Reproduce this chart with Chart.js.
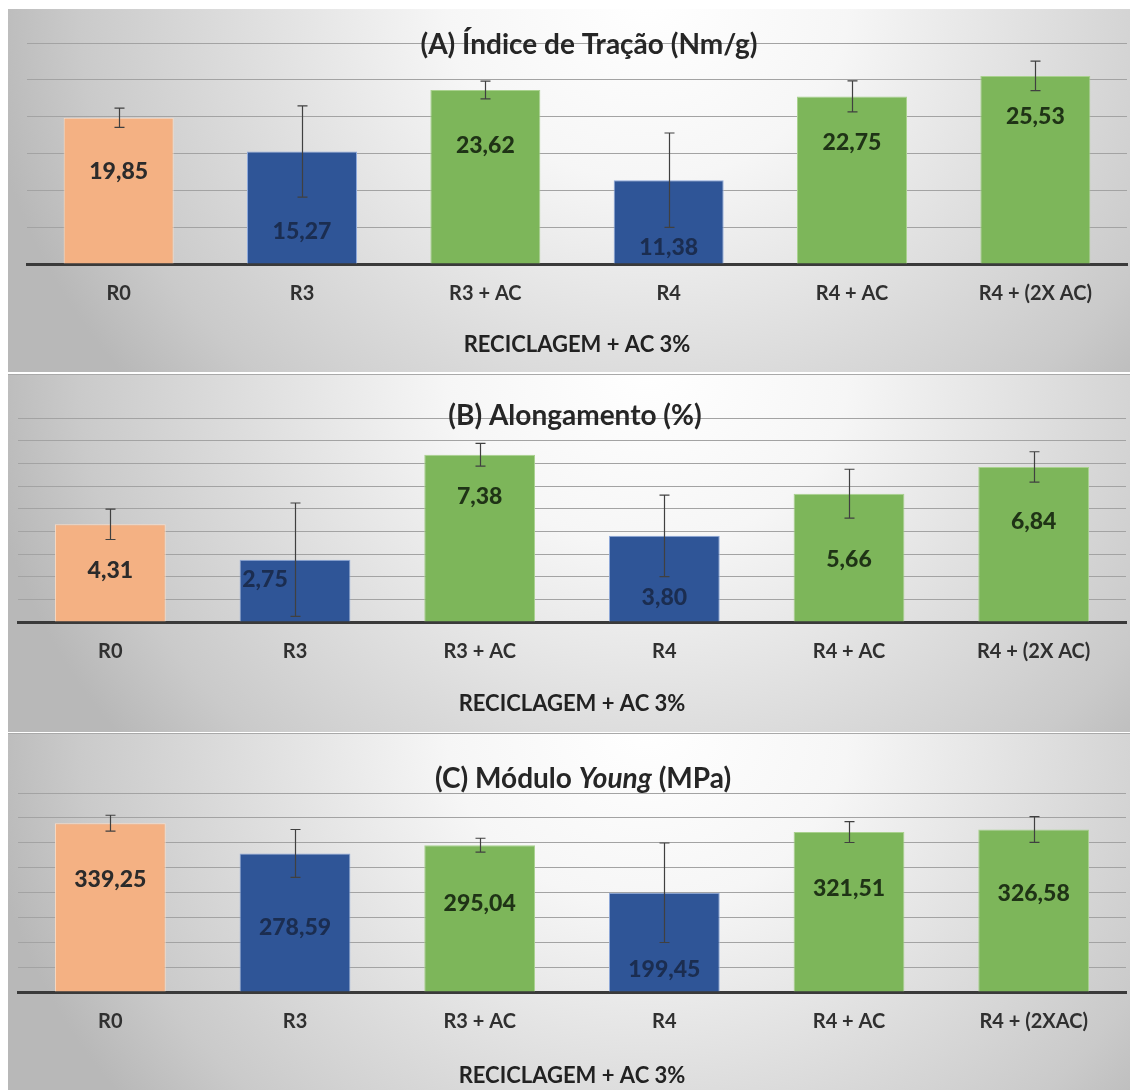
<!DOCTYPE html>
<html><head><meta charset="utf-8">
<script src="https://cdn.jsdelivr.net/npm/chart.js@4.4.0/dist/chart.umd.min.js"></script>
<style>
html,body{margin:0;padding:0;background:#fff;width:1130px;height:1090px;overflow:hidden}
.panel{position:absolute;left:8px;width:1122px}
canvas{display:block}
</style></head><body>
<div class="panel" style="top:9px;height:363px"><canvas id="ca" width="1122" height="363"></canvas></div>
<div class="panel" style="top:374px;height:357px;border-top:1px solid #a9a9a9"><canvas id="cb" width="1122" height="357"></canvas></div>
<div class="panel" style="top:733px;height:357px;border-top:1px solid #a9a9a9"><canvas id="cc" width="1122" height="357"></canvas></div>
<script>
// ---- data ----
const categoriesAB = ['R0', 'R3', 'R3 + AC', 'R4', 'R4 + AC', 'R4 + (2X AC)'];
const categoriesC = ['R0', 'R3', 'R3 + AC', 'R4', 'R4 + AC', 'R4 + (2XAC)'];
const tensileIndex = [19.85, 15.27, 23.62, 11.38, 22.75, 25.53];
const tensileError = [1.3, 6.2, 1.2, 6.4, 2.1, 2.0];
const elongation = [4.31, 2.75, 7.38, 3.80, 5.66, 6.84];
const elongationError = [0.67, 2.5, 0.5, 1.8, 1.08, 0.67];
const youngModulus = [339.25, 278.59, 295.04, 199.45, 321.51, 326.58];
const youngError = [16, 48, 14, 100, 21, 26];
const xAxisTitle = 'RECICLAGEM + AC 3%';
const titleA = [{t: '(A) Índice de Tração (Nm/g)'}];
const titleB = [{t: '(B) Alongamento (%)'}];
const titleC = [{t: '(C) Módulo '}, {t: 'Young', i: true}, {t: ' (MPa)'}];

// ---- styles ----
const ORANGE = '#F4B183', BLUE = '#2F5597', GREEN = '#7DB65A';
const barFill = [ORANGE, BLUE, GREEN, BLUE, GREEN, GREEN];
const barEdge = ['#FBDCC4', '#8EA9DB', '#A9D18E', '#8EA9DB', '#A9D18E', '#A9D18E'];
const labelColor = ['#2b2b2b', '#1b2d50', '#1f3316', '#1b2d50', '#1f3316', '#1f3316'];
const FONT = 'Lato, "Open Sans", sans-serif';

const bgPlugin = {
  id: 'bgGrad',
  beforeDraw(chart) {
    const {ctx, width, height} = chart;
    ctx.save();
    ctx.translate(width * 0.57, -10);
    ctx.scale(1, 0.9);
    const g = ctx.createRadialGradient(0, 0, 0, 0, 0, 670);
    g.addColorStop(0, '#ffffff');
    g.addColorStop(0.3, '#f6f6f6');
    g.addColorStop(0.6, '#dedede');
    g.addColorStop(0.85, '#cacaca');
    g.addColorStop(1, '#b8b8b8');
    ctx.fillStyle = g;
    ctx.fillRect(-width, -20, width * 3, height * 3);
    ctx.restore();
  }
};

const overlayPlugin = {
  id: 'overlay',
  afterDatasetsDraw(chart, args, opts) {
    const {ctx, chartArea} = chart;
    const ys = chart.scales.y;
    const meta = chart.getDatasetMeta(0);
    const vals = chart.data.datasets[0].data;
    // error bars
    ctx.save();
    ctx.strokeStyle = '#404040';
    ctx.lineWidth = 1.2;
    meta.data.forEach((bar, i) => {
      const v = vals[i], e = opts.errors[i];
      const x = Math.round(bar.x) + 0.5;
      const yt = ys.getPixelForValue(v + e), yb = ys.getPixelForValue(v - e);
      ctx.beginPath();
      ctx.moveTo(x, yt); ctx.lineTo(x, yb);
      ctx.moveTo(x - 5, yt); ctx.lineTo(x + 5, yt);
      ctx.moveTo(x - 5, yb); ctx.lineTo(x + 5, yb);
      ctx.stroke();
    });
    ctx.restore();
    // value labels
    ctx.save();
    ctx.font = '900 23px ' + FONT;
    ctx.textAlign = 'center';
    ctx.textBaseline = 'middle';
    meta.data.forEach((bar, i) => {
      ctx.fillStyle = labelColor[i];
      const txt = vals[i].toFixed(2).replace('.', ',');
      ctx.fillText(txt, bar.x + (opts.labelDx ? opts.labelDx[i] : 0), bar.y + opts.labelDy[i]);
    });
    ctx.restore();
    // panel title
    ctx.save();
    ctx.textBaseline = 'middle';
    ctx.fillStyle = '#262626';
    const parts = opts.title;
    const fnt = p => (p.i ? 'italic ' : '') + 'bold 28px ' + FONT;
    let total = 0;
    parts.forEach(p => { ctx.font = fnt(p); total += ctx.measureText(p.t).width; });
    let x = (chartArea.left + chartArea.right) / 2 + opts.titleDx - total / 2;
    const y = chartArea.top + opts.titleDy;
    ctx.textAlign = 'left';
    parts.forEach(p => { ctx.font = fnt(p); ctx.fillText(p.t, x, y); x += ctx.measureText(p.t).width; });
    ctx.restore();
  }
};

function makeChart(id, cats, values, errors, yMax, yStep, pad, titlePad, overlay) {
  return new Chart(document.getElementById(id), {
    type: 'bar',
    data: {
      labels: cats,
      datasets: [{
        data: values,
        backgroundColor: barFill,
        borderColor: barEdge,
        borderWidth: 1,
        categoryPercentage: 1,
        barPercentage: 0.6
      }]
    },
    options: {
      responsive: false,
      animation: false,
      devicePixelRatio: 1,
      layout: {padding: pad},
      plugins: {
        legend: {display: false},
        tooltip: {enabled: false},
        title: {display: false},
        overlay: Object.assign({errors: errors}, overlay)
      },
      scales: {
        x: {
          grid: {display: false, drawTicks: false},
          border: {display: true, color: '#3a3a3a', width: 3},
          ticks: {color: '#303030', font: {family: FONT, size: 20, weight: 'bold'}, padding: 18, maxRotation: 0, autoSkip: false},
          title: {display: true, text: xAxisTitle, color: '#222222', font: {family: FONT, size: 22, weight: 'bold'}, padding: titlePad}
        },
        y: {
          min: 0, max: yMax,
          ticks: {display: false, stepSize: yStep},
          grid: {color: '#a3a3a3', lineWidth: 1, drawTicks: false},
          border: {display: false}
        }
      }
    },
    plugins: [bgPlugin, overlayPlugin]
  });
}

makeChart('ca', categoriesAB, tensileIndex, tensileError, 30, 5,
  {top: 34, left: 19, right: 3, bottom: 9.6}, {top: 8, bottom: 4},
  {title: titleA, titleDx: 12, titleDy: 2, labelDy: [54, 80, 56, 67, 46, 41]});
makeChart('cb', categoriesAB, elongation, elongationError, 9, 1,
  {top: 43, left: 10, right: 4, bottom: 10.6}, {top: 9, bottom: 4},
  {title: titleB, titleDx: 3, titleDy: -2, labelDy: [46, 20, 42, 62, 66, 55], labelDx: [0, -30, 0, 0, 0, 0]});
makeChart('cc', categoriesC, youngModulus, youngError, 400, 50,
  {top: 59, left: 10, right: 4, bottom: 1.6}, {top: 11, bottom: 0},
  {title: titleC, titleDx: 11, titleDy: -14, labelDy: [56, 74, 58, 77, 57, 64]});
</script>
</body></html>
